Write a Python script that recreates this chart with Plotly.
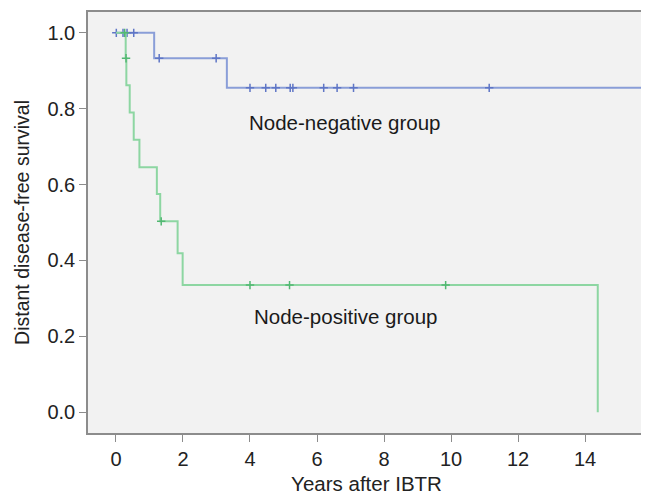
import plotly.graph_objects as go
import numpy as np

# ---- data ----
neg_event_times = [0.0, 1.14, 3.31]
neg_survival = [1.0, 0.933, 0.855]
neg_followup_end = 15.9
neg_censor_times = [0.01, 0.21, 0.33, 0.53, 1.29, 2.99, 4.0, 4.47, 4.77, 5.2, 5.28, 6.2, 6.6, 7.09, 11.14]

pos_event_times = [0.0, 0.29, 0.31, 0.41, 0.53, 0.70, 1.22, 1.32, 1.84, 1.99, 14.38]
pos_survival = [1.0, 0.933, 0.862, 0.790, 0.718, 0.646, 0.575, 0.503, 0.419, 0.335, 0.0]
pos_followup_end = 14.38
pos_censor_times = [0.26, 0.30, 1.35, 4.0, 5.18, 9.84]

x_ticks = [0, 2, 4, 6, 8, 10, 12, 14]
y_ticks = [0.0, 0.2, 0.4, 0.6, 0.8, 1.0]

BLUE = "#8a9ed8"
BLUE_DARK = "#5f76c6"
GREEN = "#8dd6a2"
GREEN_DARK = "#52b872"
FONT = "Liberation Sans, Arial, sans-serif"


def surv_at(t, times, surv):
    idx = np.searchsorted(times, t, side="right") - 1
    return surv[max(idx, 0)]


def step_xy(times, surv, end):
    xs = list(times) + [end]
    ys = list(surv) + [surv[-1]]
    return xs, ys


fig = go.Figure()

nx, ny = step_xy(neg_event_times, neg_survival, neg_followup_end)
fig.add_trace(go.Scatter(x=nx, y=ny, mode="lines", line=dict(color=BLUE, width=2, shape="hv"),
                         hoverinfo="skip", showlegend=False))
fig.add_trace(go.Scatter(x=neg_censor_times,
                         y=[surv_at(t, neg_event_times, neg_survival) for t in neg_censor_times],
                         mode="markers",
                         marker=dict(symbol="cross-thin", size=6, line=dict(color=BLUE_DARK, width=1.5)),
                         showlegend=False))

px_, py_ = step_xy(pos_event_times, pos_survival, pos_followup_end)
fig.add_trace(go.Scatter(x=px_, y=py_, mode="lines", line=dict(color=GREEN, width=2, shape="hv"),
                         hoverinfo="skip", showlegend=False))
fig.add_trace(go.Scatter(x=pos_censor_times,
                         y=[surv_at(t, pos_event_times, pos_survival) for t in pos_censor_times],
                         mode="markers",
                         marker=dict(symbol="cross-thin", size=6, line=dict(color=GREEN_DARK, width=1.5)),
                         showlegend=False))

fig.add_annotation(x=6.81, y=0.763, text="Node-negative group", showarrow=False,
                   font=dict(size=20.5, color="#1a1a1a", family=FONT))
fig.add_annotation(x=6.84, y=0.251, text="Node-positive group", showarrow=False,
                   font=dict(size=20.5, color="#1a1a1a", family=FONT))

axis_common = dict(showline=True, linecolor="#8c8c8c", linewidth=1.5, mirror=True,
                   showgrid=False, zeroline=False, ticks="outside", ticklen=7,
                   tickcolor="#8c8c8c", tickwidth=1.2, automargin=False,
                   tickfont=dict(size=20, color="#222222", family=FONT))

# page body has an 8px default margin, so the figure is sized to fit inside the window
fig.update_layout(
    width=641, height=487,
    margin=dict(l=80, r=4, t=4, b=62),
    paper_bgcolor="white", plot_bgcolor="#f2f2f2",
    font=dict(family=FONT, color="#222222"),
    xaxis=dict(range=[-0.835, 15.79], tickvals=x_ticks, ticktext=[str(v) for v in x_ticks],
               title=dict(text="Years after IBTR", font=dict(size=20.5, family=FONT, color="#222222"),
                          standoff=10), **axis_common),
    yaxis=dict(range=[-0.055, 1.055], tickvals=y_ticks, ticktext=[f"{v:.1f}" for v in y_ticks],
               title=dict(text="Distant disease-free survival", font=dict(size=19.5, family=FONT, color="#222222"),
                          standoff=13), **axis_common),
)

fig.write_html("out.html")
